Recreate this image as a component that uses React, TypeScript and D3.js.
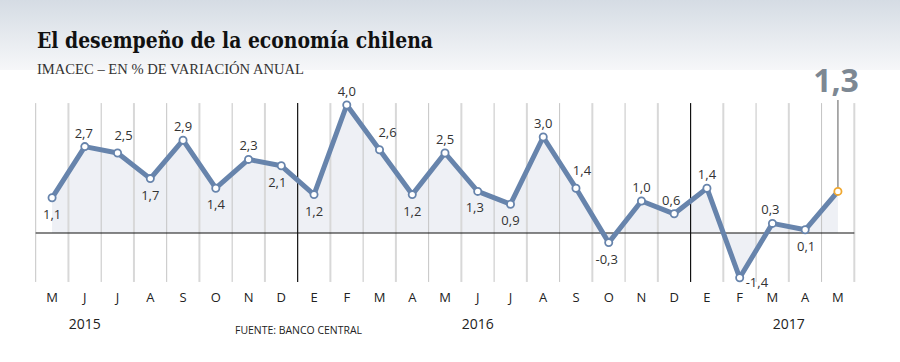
import React from "react";
import * as d3 from "d3";

// IMACEC, % variacion anual, may 2015 - may 2017
const months = ["M", "J", "J", "A", "S", "O", "N", "D", "E", "F", "M", "A", "M", "J", "J", "A", "S", "O", "N", "D", "E", "F", "M", "A", "M"];
const values = [1.1, 2.7, 2.5, 1.7, 2.9, 1.4, 2.3, 2.1, 1.2, 4.0, 2.6, 1.2, 2.5, 1.3, 0.9, 3.0, 1.4, -0.3, 1.0, 0.6, 1.4, -1.4, 0.3, 0.1, 1.3];
const years = [{ label: "2015", at: 1.5 }, { label: "2016", at: 13.5 }, { label: "2017", at: 23 }];
const yearBreaks = [8, 20];
// where each value label sits: u = above, d = below, r = right
const labelPos = ["d", "u", "u", "d", "u", "d", "u", "d", "d", "u", "u", "d", "u", "d", "d", "u", "u", "d", "u", "u", "u", "r", "u", "d", "none"];
const labelShift = [0, -1, 6, 0, 0, 0, 0, -4, 0, 0, 8, 0, 0, -3, 0, 0, 6, -2, 0, -3, 0, 0, -2, 1, 0];

const fmt = (v: number) => d3.format(".1f")(v).replace(".", ",").replace("−", "-");

function App() {
    const width = 900, height = 362;
    const idx = d3.range(values.length);
    const x = d3.scaleBand<number>().domain(idx).range([35.7, 854.3]).padding(0);
    const y = d3.scaleLinear().domain([-1.5, 4]).range([281, 105]);
    const cx = (i: number) => (x(i) as number) + x.bandwidth() / 2;

    const line = d3.line<number>().x((d, i) => cx(i)).y(d => y(d));
    const area = d3.area<number>().x((d, i) => cx(i)).y0(y(0)).y1(d => y(d));

    const top = y(4.06), bottom = y(-1.53);
    const blue = "#6784ac";
    const last = values.length - 1;

    return (
        <svg width={width} height={height} style={{ position: "absolute", left: 0, top: 0 }}>
            <defs>
                <linearGradient id="bg" x1="0" y1="0" x2="0" y2="1">
                    <stop offset="0" stopColor="#d5dce4" />
                    <stop offset="1" stopColor="#f6f7f9" />
                </linearGradient>
            </defs>
            <rect x={0} y={0} width={width} height={height} fill="#fff" />
            <rect x={0} y={0} width={width} height={70} fill="url(#bg)" />

            <text x={37} y={48} fontFamily="DejaVu Serif" fontWeight="bold" fontSize={22} fill="#111"
                textLength={396} lengthAdjust="spacingAndGlyphs">El desempeño de la economía chilena</text>
            <text x={37} y={74} fontFamily="Liberation Serif" fontSize={14} fill="#333"
                textLength={267} lengthAdjust="spacingAndGlyphs">IMACEC – EN % DE VARIACIÓN ANUAL</text>

            <path d={area(values) as string} fill="#eef0f5" />

            {d3.range(values.length + 1).map(i => {
                const xx = i < values.length ? (x(i) as number) : 854.3;
                const isYear = yearBreaks.includes(i);
                return (
                    <line key={"g" + i} x1={xx} x2={xx} y1={top} y2={bottom}
                        stroke={isYear ? "#111" : (i % 2 ? "#d8d8d8" : "#c4c4c4")}
                        strokeWidth={isYear ? 1.2 : (i % 2 ? 2 : 1)} />
                );
            })}
            <line x1={cx(last)} x2={cx(last)} y1={100} y2={y(values[last])} stroke="#777" strokeWidth={1.2} />
            <line x1={35.7} x2={854.3} y1={y(0)} y2={y(0)} stroke="#111" strokeWidth={1.2} />

            <path d={line(values) as string} fill="none" stroke={blue} strokeWidth={5} strokeLinejoin="round" />
            {values.map((v, i) => (
                <circle key={"c" + i} cx={cx(i)} cy={y(v)} r={3.6} fill="#fff"
                    stroke={i === last ? "#f0a830" : blue} strokeWidth={1.8} />
            ))}

            {values.map((v, i) => {
                const p = labelPos[i];
                if (p === "none") return null;
                const px = cx(i) + labelShift[i], py = y(v);
                if (p === "r") {
                    return <text key={"l" + i} x={px + 6} y={py + 9} fontFamily="Open Sans" fontSize={13} fill="#333">{fmt(v)}</text>;
                }
                const ty = p === "u" ? py - (labelShift[i] > 5 ? 13 : 9) : py + 21;
                return (
                    <text key={"l" + i} x={px} y={ty} textAnchor="middle" fontFamily="Open Sans" fontSize={13} fill="#333">{fmt(v)}</text>
                );
            })}

            <text x={836} y={92} textAnchor="middle" fontFamily="Open Sans" fontWeight="bold" fontSize={32} fill="#7d8893">{fmt(values[last])}</text>

            {months.map((m, i) => (
                <text key={"m" + i} x={cx(i)} y={302} textAnchor="middle" fontFamily="Open Sans" fontSize={13} fill="#222">{m}</text>
            ))}
            {years.map(yr => (
                <text key={yr.label} x={(x(0) as number) + x.bandwidth() * yr.at} y={329} textAnchor="middle"
                    fontFamily="Open Sans" fontSize={14} fill="#222">{yr.label}</text>
            ))}
            <text x={235} y={334} fontFamily="Open Sans" fontSize={11} fill="#222"
                textLength={127} lengthAdjust="spacingAndGlyphs">FUENTE: BANCO CENTRAL</text>
        </svg>
    );
}

export default App;
